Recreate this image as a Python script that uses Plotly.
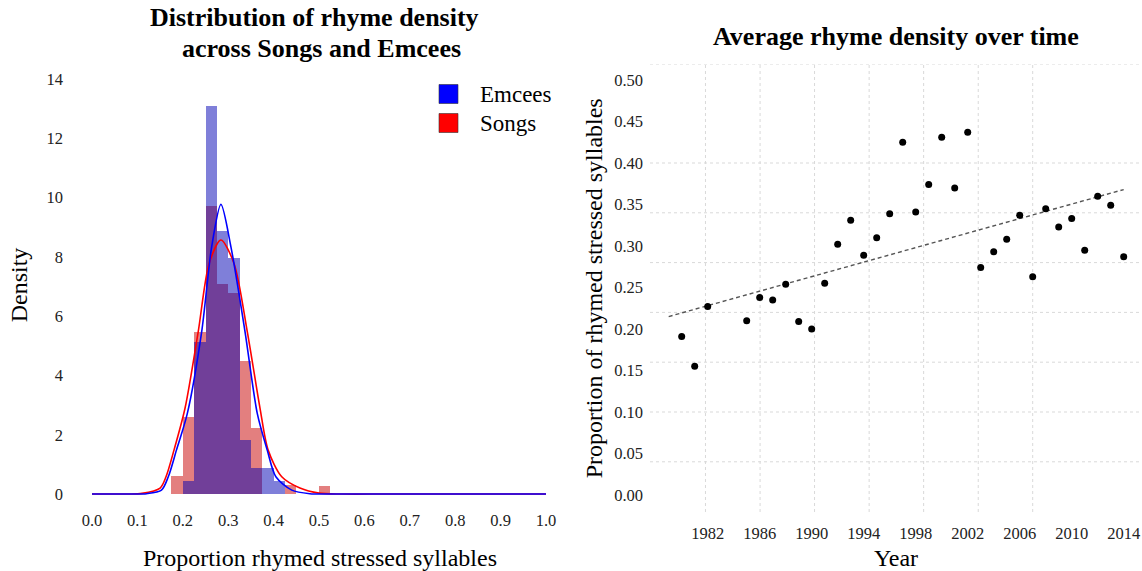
import plotly.graph_objects as go

W, H = 1142, 571

# ---- left panel: histogram of rhyme density (density-normalised) ----
bin_edges = [0.175, 0.2, 0.225, 0.25, 0.275, 0.3, 0.325, 0.35, 0.375, 0.4, 0.425, 0.45, 0.475, 0.5]
bin_width = 0.025
songs_density = [0.62, 2.6, 5.48, 9.7, 7.1, 6.77, 4.5, 2.22, 0, 0, 0.3, 0, 0, 0.28]
emcees_density = [0, 0.43, 5.12, 13.1, 8.88, 7.95, 1.82, 0.87, 0.87, 0.43, 0, 0, 0, 0]

# fitted curves
emcees_curve_x = [0.0, 0.05, 0.09, 0.12, 0.153, 0.168, 0.186, 0.21, 0.2416, 0.2636, 0.284,
                  0.306, 0.337, 0.364, 0.386, 0.405, 0.44, 0.48, 0.52, 0.6, 0.8, 1.0]
emcees_curve_y = [0, 0, 0, 0.01, 0.13, 0.58, 1.48, 2.72, 5.48, 8.34, 9.77,
                  8.34, 5.48, 2.72, 1.48, 0.58, 0.13, 0.01, 0, 0, 0, 0]
songs_curve_x = [0.0, 0.05, 0.08, 0.11, 0.15, 0.163, 0.1806, 0.205, 0.234, 0.258, 0.284,
                 0.3128, 0.342, 0.37, 0.388, 0.418, 0.458, 0.5, 0.55, 0.65, 0.8, 1.0]
songs_curve_y = [0, 0, 0, 0.02, 0.2, 0.58, 1.48, 2.9, 5.48, 7.78, 8.57,
                 7.78, 5.48, 2.9, 1.48, 0.58, 0.2, 0.03, 0, 0, 0, 0]

# ---- right panel: average rhyme density by year ----
years = [1980, 1981, 1982, 1985, 1986, 1987, 1988, 1989, 1990, 1991, 1992, 1993, 1994,
         1995, 1996, 1997, 1998, 1999, 2000, 2001, 2002, 2003, 2004, 2005, 2006, 2007,
         2008, 2009, 2010, 2011, 2012, 2013, 2014]
avg_density = [0.191, 0.155, 0.227, 0.210, 0.238, 0.235, 0.254, 0.209, 0.200, 0.255, 0.302,
               0.331, 0.289, 0.310, 0.339, 0.425, 0.341, 0.374, 0.431, 0.370, 0.437, 0.274,
               0.293, 0.308, 0.337, 0.263, 0.345, 0.323, 0.333, 0.295, 0.360, 0.349, 0.287]
trend_years = [1979, 2014]
trend_density = [0.215, 0.368]


def px_x(p):
    return p / W


def px_y(p):
    return 1 - p / H


serif = "Liberation Serif"

fig = go.Figure()

fig.add_trace(go.Bar(x=bin_edges, y=songs_density, width=bin_width, offset=0,
                     marker=dict(color="rgba(200,0,0,0.5)", line_width=0),
                     showlegend=False, xaxis="x", yaxis="y"))
fig.add_trace(go.Bar(x=bin_edges, y=emcees_density, width=bin_width, offset=0,
                     marker=dict(color="rgba(0,0,180,0.5)", line_width=0),
                     showlegend=False, xaxis="x", yaxis="y"))
fig.add_trace(go.Scatter(x=songs_curve_x, y=songs_curve_y, mode="lines",
                         line=dict(color="red", width=1.6, shape="spline", smoothing=0.8),
                         showlegend=False, xaxis="x", yaxis="y"))
fig.add_trace(go.Scatter(x=emcees_curve_x, y=emcees_curve_y, mode="lines",
                         line=dict(color="blue", width=1.6, shape="spline", smoothing=0.8),
                         showlegend=False, xaxis="x", yaxis="y"))

fig.add_trace(go.Scatter(x=trend_years, y=trend_density, mode="lines",
                         line=dict(color="#555555", width=1.4, dash="4px,3px"),
                         showlegend=False, xaxis="x2", yaxis="y2"))
fig.add_trace(go.Scatter(x=years, y=avg_density, mode="markers",
                         marker=dict(color="black", size=7),
                         showlegend=False, xaxis="x2", yaxis="y2"))

# dotted grid of the right panel (does not line up with its tick labels)
grid_x = [1981.83, 1986.03, 1990.22, 1994.42, 1998.61, 2002.81, 2007.0]
grid_y = [0.04, 0.10, 0.16, 0.22, 0.28, 0.34, 0.40, 0.5187]
shapes = []
for gx in grid_x:
    shapes.append(dict(type="line", xref="x2", yref="y2 domain", x0=gx, x1=gx, y0=0, y1=1,
                       line=dict(color="#d9d9d9", width=1, dash="dot"), layer="below"))
for gy in grid_y:
    shapes.append(dict(type="line", xref="x2 domain", yref="y2", x0=0, x1=1, y0=gy, y1=gy,
                       line=dict(color="#d9d9d9", width=1, dash="dot"), layer="below"))

# legend of the left panel
legend_items = [("Emcees", "blue", 94), ("Songs", "red", 123)]
annotations = []
for name, col, cy in legend_items:
    shapes.append(dict(type="rect", xref="paper", yref="paper",
                       x0=px_x(439), x1=px_x(458), y0=px_y(cy + 9.5), y1=px_y(cy - 9.5),
                       fillcolor=col, line=dict(color="#333333", width=0.6)))
    annotations.append(dict(text=name, xref="paper", yref="paper", x=px_x(478), y=px_y(cy),
                            xanchor="left", yanchor="middle", showarrow=False,
                            font=dict(family=serif, size=23, color="black")))

annotations += [
    dict(text="<b>Distribution of rhyme density</b>", xref="paper", yref="paper",
         x=px_x(314), y=px_y(18), xanchor="center", yanchor="middle", showarrow=False,
         font=dict(family=serif, size=26, color="black")),
    dict(text="<b>across Songs and Emcees</b>", xref="paper", yref="paper",
         x=px_x(321), y=px_y(48), xanchor="center", yanchor="middle", showarrow=False,
         font=dict(family=serif, size=26, color="black")),
    dict(text="<b>Average rhyme density over time</b>", xref="paper", yref="paper",
         x=px_x(896), y=px_y(36), xanchor="center", yanchor="middle", showarrow=False,
         font=dict(family=serif, size=26, color="black")),
]

tick_font = dict(family=serif, size=16.5, color="#222222")
title_font = dict(family=serif, size=24, color="black")

fig.update_layout(
    width=W, height=H,
    margin=dict(l=0, r=0, t=0, b=0, autoexpand=False),
    paper_bgcolor="white", plot_bgcolor="white",
    barmode="overlay", bargap=0,
    shapes=shapes, annotations=annotations,
    xaxis=dict(domain=[px_x(80), px_x(560)], range=[-12 / 454, 468 / 454], automargin=False,
               tickvals=[i / 10 for i in range(11)], tickformat=".1f",
               showgrid=False, zeroline=False, showline=False, ticks="",
               ticklabelstandoff=8, tickfont=tick_font,
               title=dict(text="Proportion rhymed stressed syllables", font=title_font, standoff=20)),
    yaxis=dict(domain=[px_y(500), px_y(70)], range=[-6 / 29.64, 424 / 29.64], automargin=False,
               tickvals=list(range(0, 15, 2)),
               showgrid=False, zeroline=False, showline=False, ticks="",
               ticklabelstandoff=16, tickfont=tick_font,
               title=dict(text="Density", font=title_font, standoff=12)),
    xaxis2=dict(domain=[px_x(650), 1.0], range=[1977.562, 2015.408], anchor="y2", automargin=False,
                tickvals=list(range(1982, 2015, 4)),
                showgrid=False, zeroline=False, showline=False, ticks="",
                ticklabelstandoff=9, tickfont=tick_font,
                title=dict(text="Year", font=title_font, standoff=11)),
    yaxis2=dict(domain=[px_y(512), px_y(64.5)], range=[-0.02048, 0.51867], anchor="x2", automargin=False,
                tickvals=[i * 0.05 for i in range(11)], tickformat=".2f",
                showgrid=False, zeroline=False, showline=False, ticks="",
                ticklabelstandoff=6, tickfont=tick_font,
                title=dict(text="Proportion of rhymed stressed syllables", font=title_font, standoff=4)),
)

# the page's default body margin would push the figure off the window
fig.write_html("out.html", config={"displayModeBar": False},
               post_script="document.body.style.margin='0';")
